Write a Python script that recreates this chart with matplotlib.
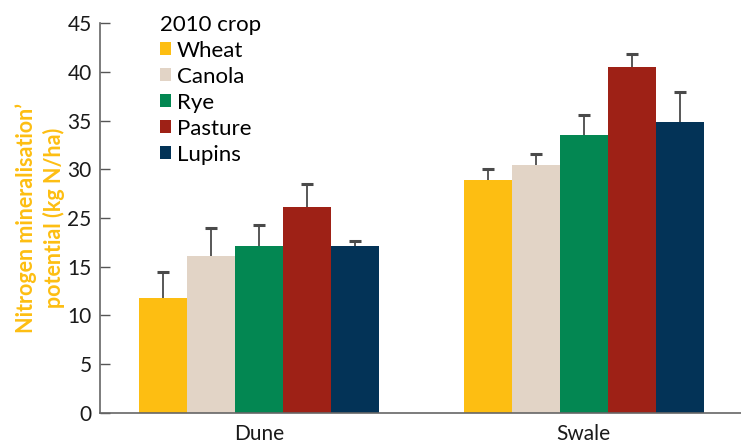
import numpy as np
import matplotlib.pyplot as plt
from matplotlib.patches import Patch

plt.rcParams['font.family'] = ['Lato', 'DejaVu Sans']

# --- data ---
sites = ['Dune', 'Swale']
crops = ['Wheat', 'Canola', 'Rye', 'Pasture', 'Lupins']
colors = ['#FDBE12', '#E2D4C6', '#038752', '#9E2116', '#033357']

dune = [11.8, 16.1, 17.1, 21.1, 17.1]
dune_err = [2.6, 2.9, 2.15, 2.35, 0.55]
swale = [23.9, 25.4, 28.5, 35.5, 29.85]
swale_err = [1.15, 1.15, 2.05, 1.35, 3.1]

ytick_pos = [0, 5, 10, 15, 20, 25, 30, 35, 40]
ytick_labels = ['0', '5', '10', '15', '25', '30', '35', '40', '45']

# --- figure ---
fig = plt.figure(figsize=(7.41, 4.43), dpi=100)
ax = fig.add_axes([0.135, 0.0688, 0.865, 0.8786])

x = np.arange(len(sites))
width = 0.148
values = np.array([dune, swale])
errors = np.array([dune_err, swale_err])

for i, crop in enumerate(crops):
    pos = x + (i - 2) * width
    ax.bar(pos, values[:, i], width=width, color=colors[i], zorder=2)
    # upper error only: hide the cap sitting on the bar top
    eb = ax.errorbar(pos, values[:, i], yerr=[np.zeros(2), errors[:, i]],
                     fmt='none', ecolor='#4a4a4a', elinewidth=1.3,
                     capsize=4, capthick=2.2, zorder=3)
    eb[1][0].set_visible(False)
    eb[1][1].set_color('#222222')

ax.set_xlim(-0.49, 1.485)
ax.set_ylim(0, 40)
ax.set_yticks(ytick_pos)
ax.set_yticklabels(ytick_labels, fontsize=15, color='#1a1a1a')
ax.set_xticks(x)
ax.set_xticklabels(sites, fontsize=15, color='#1a1a1a')
ax.tick_params(axis='y', direction='in', length=7.5, width=1, color='#555555', pad=6)
ax.tick_params(axis='x', length=0, pad=8)

for side in ['top', 'right']:
    ax.spines[side].set_visible(False)
for side in ['left', 'bottom']:
    ax.spines[side].set_color('#666666')
    ax.spines[side].set_linewidth(1.2)

ax.set_ylabel('Nitrogen mineralisation’\npotential (kg N/ha)', color='#FDBE12',
              fontsize=15.5, fontweight='bold', linespacing=1.3, labelpad=2)

handles = [Patch(facecolor=c, edgecolor='none') for c in colors]
leg = ax.legend(handles, crops, title='2010 crop', loc='upper left',
                bbox_to_anchor=(0.08, 1.045), frameon=False, fontsize=16,
                title_fontsize=16, handlelength=0.5, handleheight=0.5,
                handletextpad=0.25, labelspacing=0.27, borderaxespad=0)
leg._legend_box.align = 'left'

fig.savefig('out.png', dpi=100)
